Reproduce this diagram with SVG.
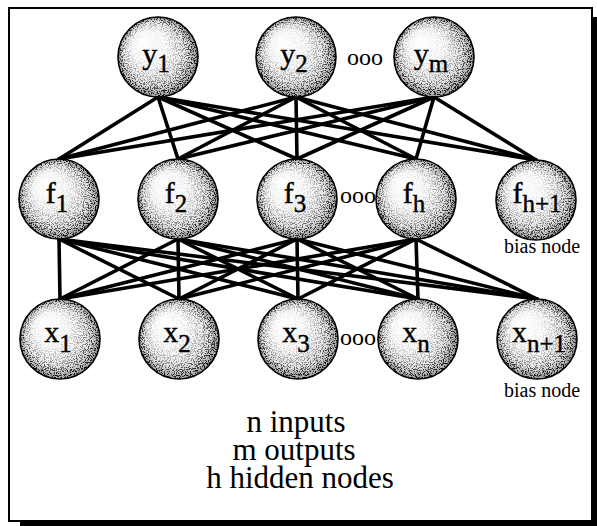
<svg xmlns="http://www.w3.org/2000/svg" width="597" height="526" viewBox="0 0 597 526">
<defs>
<radialGradient id="sph" cx="0.5" cy="0.5" r="0.5" fx="0.32" fy="0.3">
<stop offset="0" stop-color="#ffffff"/>
<stop offset="0.5" stop-color="#fafafa"/>
<stop offset="0.8" stop-color="#e2e2e2"/>
<stop offset="1" stop-color="#9a9a9a"/>
</radialGradient>
<radialGradient id="spkg" cx="0.5" cy="0.5" r="0.5" fx="0.3" fy="0.28">
<stop offset="0" stop-color="#000" stop-opacity="0"/>
<stop offset="0.4" stop-color="#000" stop-opacity="0.08"/>
<stop offset="0.7" stop-color="#000" stop-opacity="0.35"/>
<stop offset="0.88" stop-color="#000" stop-opacity="0.75"/>
<stop offset="1" stop-color="#000" stop-opacity="1"/>
</radialGradient>
<filter id="speck" x="0" y="0" width="1" height="1" color-interpolation-filters="sRGB">
<feTurbulence type="fractalNoise" baseFrequency="0.85" numOctaves="2" seed="5" result="t"/>
<feColorMatrix in="t" type="matrix" values="0 0 0 0 0  0 0 0 0 0  0 0 0 0 0  7 0 0 0 -3.4" result="dots"/>
<feComposite in="dots" in2="SourceGraphic" operator="in"/>
</filter>
</defs>
<style>
.frame{fill:none;stroke:#000;stroke-width:2}
.shadow{fill:#000}
.conn line{stroke:#000;stroke-width:3.6;stroke-linecap:round}
.ball{fill:url(#sph)}
.spk{fill:url(#spkg)}
.rim{fill:none;stroke:#000;stroke-width:1.6}
.lab{font-size:30px;fill:#000;stroke:#000;stroke-width:0.4;text-anchor:middle}
.sub{font-size:25px}
.dots{font-size:24px;fill:#000}
.note{font-size:20px;fill:#000;text-anchor:middle}
.legend{font-size:31px;fill:#000;text-anchor:middle}
</style>
<rect width="597" height="526" fill="#fff"/>
<rect class="shadow" x="593" y="17" width="4" height="509"/>
<rect class="shadow" x="20" y="522" width="577" height="4"/>
<rect class="frame" x="9" y="8" width="583" height="513"/>

<g id="connectors" class="conn">
<line x1="158" y1="97" x2="59" y2="159"/>
<line x1="158" y1="97" x2="178" y2="159"/>
<line x1="158" y1="97" x2="297" y2="159"/>
<line x1="158" y1="97" x2="416" y2="159"/>
<line x1="158" y1="97" x2="536" y2="160"/>
<line x1="296" y1="97" x2="59" y2="159"/>
<line x1="296" y1="97" x2="178" y2="159"/>
<line x1="296" y1="97" x2="297" y2="159"/>
<line x1="296" y1="97" x2="416" y2="159"/>
<line x1="296" y1="97" x2="536" y2="160"/>
<line x1="434" y1="97" x2="59" y2="159"/>
<line x1="434" y1="97" x2="178" y2="159"/>
<line x1="434" y1="97" x2="297" y2="159"/>
<line x1="434" y1="97" x2="416" y2="159"/>
<line x1="434" y1="97" x2="536" y2="160"/>

<line x1="59" y1="239" x2="60" y2="299"/>
<line x1="59" y1="239" x2="179" y2="299"/>
<line x1="59" y1="239" x2="298" y2="299"/>
<line x1="59" y1="239" x2="418" y2="299"/>
<line x1="59" y1="239" x2="537" y2="299"/>
<line x1="178" y1="239" x2="60" y2="299"/>
<line x1="178" y1="239" x2="179" y2="299"/>
<line x1="178" y1="239" x2="298" y2="299"/>
<line x1="178" y1="239" x2="418" y2="299"/>
<line x1="178" y1="239" x2="537" y2="299"/>
<line x1="297" y1="239" x2="60" y2="299"/>
<line x1="297" y1="239" x2="179" y2="299"/>
<line x1="297" y1="239" x2="298" y2="299"/>
<line x1="297" y1="239" x2="418" y2="299"/>
<line x1="297" y1="239" x2="537" y2="299"/>
<line x1="416" y1="239" x2="60" y2="299"/>
<line x1="416" y1="239" x2="179" y2="299"/>
<line x1="416" y1="239" x2="298" y2="299"/>
<line x1="416" y1="239" x2="418" y2="299"/>
<line x1="416" y1="239" x2="537" y2="299"/>
</g>

<g font-family="'Liberation Serif', 'Times New Roman', 'DejaVu Serif', serif">
<g id="y1"><circle class="ball" cx="158" cy="57" r="40"/><circle class="spk" filter="url(#speck)" cx="158" cy="57" r="40"/><circle class="rim" cx="158" cy="57" r="40"/><text class="lab" x="156" y="64">y<tspan class="sub" dy="8">1</tspan></text></g>
<g id="y2"><circle class="ball" cx="296" cy="57" r="40"/><circle class="spk" filter="url(#speck)" cx="296" cy="57" r="40"/><circle class="rim" cx="296" cy="57" r="40"/><text class="lab" x="294" y="64">y<tspan class="sub" dy="8">2</tspan></text></g>
<g id="ym"><circle class="ball" cx="434" cy="57" r="40"/><circle class="spk" filter="url(#speck)" cx="434" cy="57" r="40"/><circle class="rim" cx="434" cy="57" r="40"/><text class="lab" x="431" y="64">y<tspan class="sub" dy="8">m</tspan></text></g>
<text class="dots" x="347" y="65">ooo</text>

<g id="f1"><circle class="ball" cx="59" cy="199" r="40"/><circle class="spk" filter="url(#speck)" cx="59" cy="199" r="40"/><circle class="rim" cx="59" cy="199" r="40"/><text class="lab" x="57" y="203">f<tspan class="sub" dy="9">1</tspan></text></g>
<g id="f2"><circle class="ball" cx="178" cy="199" r="40"/><circle class="spk" filter="url(#speck)" cx="178" cy="199" r="40"/><circle class="rim" cx="178" cy="199" r="40"/><text class="lab" x="176" y="203">f<tspan class="sub" dy="9">2</tspan></text></g>
<g id="f3"><circle class="ball" cx="297" cy="199" r="40"/><circle class="spk" filter="url(#speck)" cx="297" cy="199" r="40"/><circle class="rim" cx="297" cy="199" r="40"/><text class="lab" x="295" y="203">f<tspan class="sub" dy="9">3</tspan></text></g>
<g id="fh"><circle class="ball" cx="416" cy="199" r="40"/><circle class="spk" filter="url(#speck)" cx="416" cy="199" r="40"/><circle class="rim" cx="416" cy="199" r="40"/><text class="lab" x="414" y="203">f<tspan class="sub" dy="9">h</tspan></text></g>
<g id="fh1"><circle class="ball" cx="536" cy="200" r="40"/><circle class="spk" filter="url(#speck)" cx="536" cy="200" r="40"/><circle class="rim" cx="536" cy="200" r="40"/><text class="lab" x="537" y="203">f<tspan class="sub" dy="9">h+1</tspan></text><text class="note" x="542" y="253">bias node</text></g>
<text class="dots" x="340" y="203">ooo</text>

<g id="x1"><circle class="ball" cx="60" cy="339" r="40"/><circle class="spk" filter="url(#speck)" cx="60" cy="339" r="40"/><circle class="rim" cx="60" cy="339" r="40"/><text class="lab" x="58" y="342">x<tspan class="sub" dy="10">1</tspan></text></g>
<g id="x2"><circle class="ball" cx="179" cy="339" r="40"/><circle class="spk" filter="url(#speck)" cx="179" cy="339" r="40"/><circle class="rim" cx="179" cy="339" r="40"/><text class="lab" x="177" y="342">x<tspan class="sub" dy="10">2</tspan></text></g>
<g id="x3"><circle class="ball" cx="298" cy="339" r="40"/><circle class="spk" filter="url(#speck)" cx="298" cy="339" r="40"/><circle class="rim" cx="298" cy="339" r="40"/><text class="lab" x="296" y="342">x<tspan class="sub" dy="10">3</tspan></text></g>
<g id="xn"><circle class="ball" cx="418" cy="339" r="40"/><circle class="spk" filter="url(#speck)" cx="418" cy="339" r="40"/><circle class="rim" cx="418" cy="339" r="40"/><text class="lab" x="416" y="342">x<tspan class="sub" dy="10">n</tspan></text></g>
<g id="xn1"><circle class="ball" cx="537" cy="339" r="40"/><circle class="spk" filter="url(#speck)" cx="537" cy="339" r="40"/><circle class="rim" cx="537" cy="339" r="40"/><text class="lab" x="539" y="342">x<tspan class="sub" dy="10">n+1</tspan></text><text class="note" x="542" y="397">bias node</text></g>
<text class="dots" x="340" y="345">ooo</text>

<g id="legend">
<text class="legend"><tspan x="296" y="432">n inputs</tspan><tspan x="294" y="460">m outputs</tspan><tspan x="300" y="488">h hidden nodes</tspan></text>
</g>
</g>
</svg>
